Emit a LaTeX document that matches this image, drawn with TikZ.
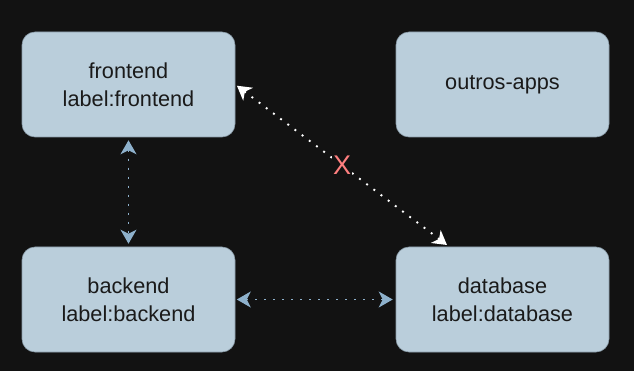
\documentclass[tikz,border=0pt]{standalone}
\usepackage{fontspec}
\setmainfont{Liberation Sans}
\usetikzlibrary{arrows.meta}
\definecolor{bg}{HTML}{121212}
\definecolor{boxfill}{HTML}{BACEDB}
\definecolor{boxline}{HTML}{8A9BA8}
\definecolor{txt}{HTML}{1A1A1A}
\definecolor{arrblue}{HTML}{8EB1CC}
\definecolor{xred}{HTML}{FF7F7F}
\tikzset{
  svc/.style={draw=boxline, line width=0.6pt, fill=boxfill, rounded corners=13pt,
    minimum width=213pt, minimum height=105pt, align=center, text=txt,
    font=\fontsize{21.7}{27.5}\selectfont, inner sep=0pt},
  link/.style={line width=1.9pt, dash pattern=on 1.9pt off 7.1pt,
    {Stealth[length=14pt,width=16pt,inset=4pt]}-{Stealth[length=14pt,width=16pt,inset=4pt]}},
}
\begin{document}
\begin{tikzpicture}[x=1pt,y=-1pt]
\fill[bg] (0,0) rectangle (634,371);
\useasboundingbox (0,0) rectangle (634,371);
\node[svc] (fe) at (128.5,84.5) {frontend\\label:frontend};
\node[svc] (oa) at (502.5,84.5) {outros-apps};
\node[svc] (be) at (128.5,299.5) {backend\\label:backend};
\node[svc] (db) at (502.5,299.5) {database\\label:database};
\coordinate (dbt) at (447,245);
\draw[link, arrblue, shorten <=3pt, shorten >=3pt] (fe.south) -- (be.north);
\draw[link, arrblue, shorten <=1.5pt, shorten >=3pt] (be.east) -- (db.west);
\draw[link, white, shorten <=2pt] (fe.east) -- (dbt)
  node[pos=0.505, fill=bg, text=xred, inner sep=1pt, font=\fontsize{27}{30}\selectfont] (x) {X};
\end{tikzpicture}
\end{document}
